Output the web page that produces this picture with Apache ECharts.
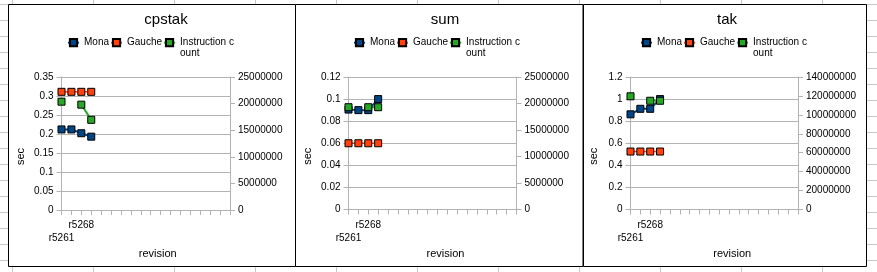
<!DOCTYPE html>
<html><head><meta charset="utf-8">
<script src="https://cdn.jsdelivr.net/npm/echarts@6/dist/echarts.min.js"></script>
<style>html,body{margin:0;padding:0;background:#fff}#c{width:877px;height:272px}</style>
</head><body><div id="c"></div>
<script>
// ---- data ----
const categories = ['r5261', '', 'r5268', '', '', '', '', '', '', '', '', '', '', '', '', '', '', ''];
const seriesNames = ['Mona', 'Gauche', 'Instruction count'];
const panelTitles = ['cpstak', 'sum', 'tak'];

const cpstakMona = [0.212, 0.212, 0.202, 0.193];
const cpstakGauche = [0.311, 0.311, 0.311, 0.311];
const cpstakInstr = [20360000, null, 19800000, 16950000];

const sumMona = [0.0905, 0.09, 0.09, 0.1];
const sumGauche = [0.06, 0.06, 0.06, 0.06];
const sumInstr = [19300000, null, 19300000, 19300000];

const takMona = [0.862, 0.912, 0.912, 1.0];
const takGauche = [0.525, 0.525, 0.525, 0.525];
const takInstr = [119600000, null, 114900000, 114900000];

const leftMax = [0.35, 0.12, 1.2];
const leftInterval = [0.05, 0.02, 0.2];
const rightMax = [25000000, 25000000, 140000000];
const rightInterval = [5000000, 5000000, 20000000];

// ---- styling / layout ----
const FONT = 'Liberation Sans';
const colors = ['#004586', '#ff420e', '#26a826'];
const panelData = [
  [cpstakMona, cpstakGauche, cpstakInstr],
  [sumMona, sumGauche, sumInstr],
  [takMona, takGauche, takInstr]
];
const layout = [
  {px: 8.5, pw: 287, gl: 61.5, gw: 168.5, gh: 133, tx: 166, lx: 67, secGap: 35, revShift: 24},
  {px: 295.5, pw: 287.5, gl: 348.5, gw: 168, gh: 132.5, tx: 445, lx: 353, secGap: 35, revShift: 26},
  {px: 583.5, pw: 283, gl: 630.5, gw: 167.5, gh: 132.5, tx: 727, lx: 640, secGap: 31, revShift: 36}
];

const graphicEls = [];
for (let k = 0; k <= 10; k++) {
  const x = Math.round(11.7 + 81 * k) + 0.5;
  graphicEls.push({type: 'line', z: -20, shape: {x1: x, y1: 0, x2: x, y2: 272}, style: {stroke: '#c8c8c8', lineWidth: 1}});
}
for (let k = 0; k <= 17; k++) {
  const y = 4 + 16 * k + 0.5;
  graphicEls.push({type: 'line', z: -20, shape: {x1: 0, y1: y, x2: 877, y2: y}, style: {stroke: '#c8c8c8', lineWidth: 1}});
}
layout.forEach(L => {
  graphicEls.push({type: 'rect', z: -10, shape: {x: L.px, y: 4.5, width: L.pw, height: 262}, style: {fill: '#fff', stroke: '#000', lineWidth: 1}});
});

const option = {
  animation: false,
  backgroundColor: '#fff',
  textStyle: {fontFamily: FONT},
  graphic: {elements: graphicEls},
  title: [], legend: [], grid: [], xAxis: [], yAxis: [], series: []
};

layout.forEach((L, i) => {
  option.title.push({
    text: panelTitles[i], left: L.tx, top: 12.5, textAlign: 'center', padding: 0,
    textStyle: {fontSize: 15, fontWeight: 'normal', color: '#000', fontFamily: FONT}
  });
  option.legend.push({
    left: L.lx, top: 26.2, padding: 0, itemWidth: 11, itemHeight: 9, itemGap: 1,
    textStyle: {fontSize: 10, color: '#000', fontFamily: FONT, lineHeight: 11},
    data: seriesNames,
    formatter: n => n === 'Instruction count' ? '\nInstruction c\nount' : n
  });
  option.grid.push({left: L.gl, top: 77, width: L.gw, height: L.gh, outerBoundsMode: 'none', containLabel: false});
  option.xAxis.push({
    type: 'category', gridIndex: i, data: categories, boundaryGap: false,
    axisLine: {show: true, lineStyle: {color: '#b3b3b3'}},
    axisTick: {show: true, interval: 0, length: 5, lineStyle: {color: '#b3b3b3'}},
    axisLabel: {interval: 0, margin: 9, fontSize: 10, lineHeight: 13, color: '#000', fontFamily: FONT,
      formatter: (v, idx) => idx === 0 ? '\n' + v : v},
    name: 'revision', nameLocation: 'middle', nameGap: 38.5,
    nameTextStyle: {fontSize: 11, color: '#000', fontFamily: FONT, padding: [0, 0, 0, L.revShift]}
  });
  option.yAxis.push({
    type: 'value', gridIndex: i, position: 'left', min: 0, max: leftMax[i], interval: leftInterval[i],
    axisLine: {show: true, lineStyle: {color: '#b3b3b3'}},
    axisTick: {show: true, length: 5, lineStyle: {color: '#b3b3b3'}},
    splitLine: {show: true, lineStyle: {color: '#b3b3b3', width: 1}},
    axisLabel: {margin: 8, fontSize: 10, color: '#000', fontFamily: FONT},
    name: 'sec', nameLocation: 'middle', nameGap: L.secGap,
    nameTextStyle: {fontSize: 11, color: '#000', fontFamily: FONT, padding: [0, 26, 0, 0]}
  });
  option.yAxis.push({
    type: 'value', gridIndex: i, position: 'right', min: 0, max: rightMax[i], interval: rightInterval[i],
    axisLine: {show: true, lineStyle: {color: '#b3b3b3'}},
    axisTick: {show: true, length: 5, lineStyle: {color: '#b3b3b3'}},
    splitLine: {show: false},
    axisLabel: {margin: 8, fontSize: 10, color: '#000', fontFamily: FONT, formatter: v => String(v)}
  });
  panelData[i].forEach((arr, s) => {
    option.series.push({
      type: 'line', name: seriesNames[s], xAxisIndex: i, yAxisIndex: s === 2 ? 2 * i + 1 : 2 * i,
      data: arr, connectNulls: false, symbol: 'rect', symbolSize: 7,
      lineStyle: {width: s === 1 ? 1.5 : 2, color: colors[s]},
      itemStyle: {color: colors[s], borderColor: '#000', borderWidth: 1}
    });
  });
});

const chart = echarts.init(document.getElementById('c'), null, {renderer: 'canvas'});
chart.setOption(option);
</script>
</body></html>
